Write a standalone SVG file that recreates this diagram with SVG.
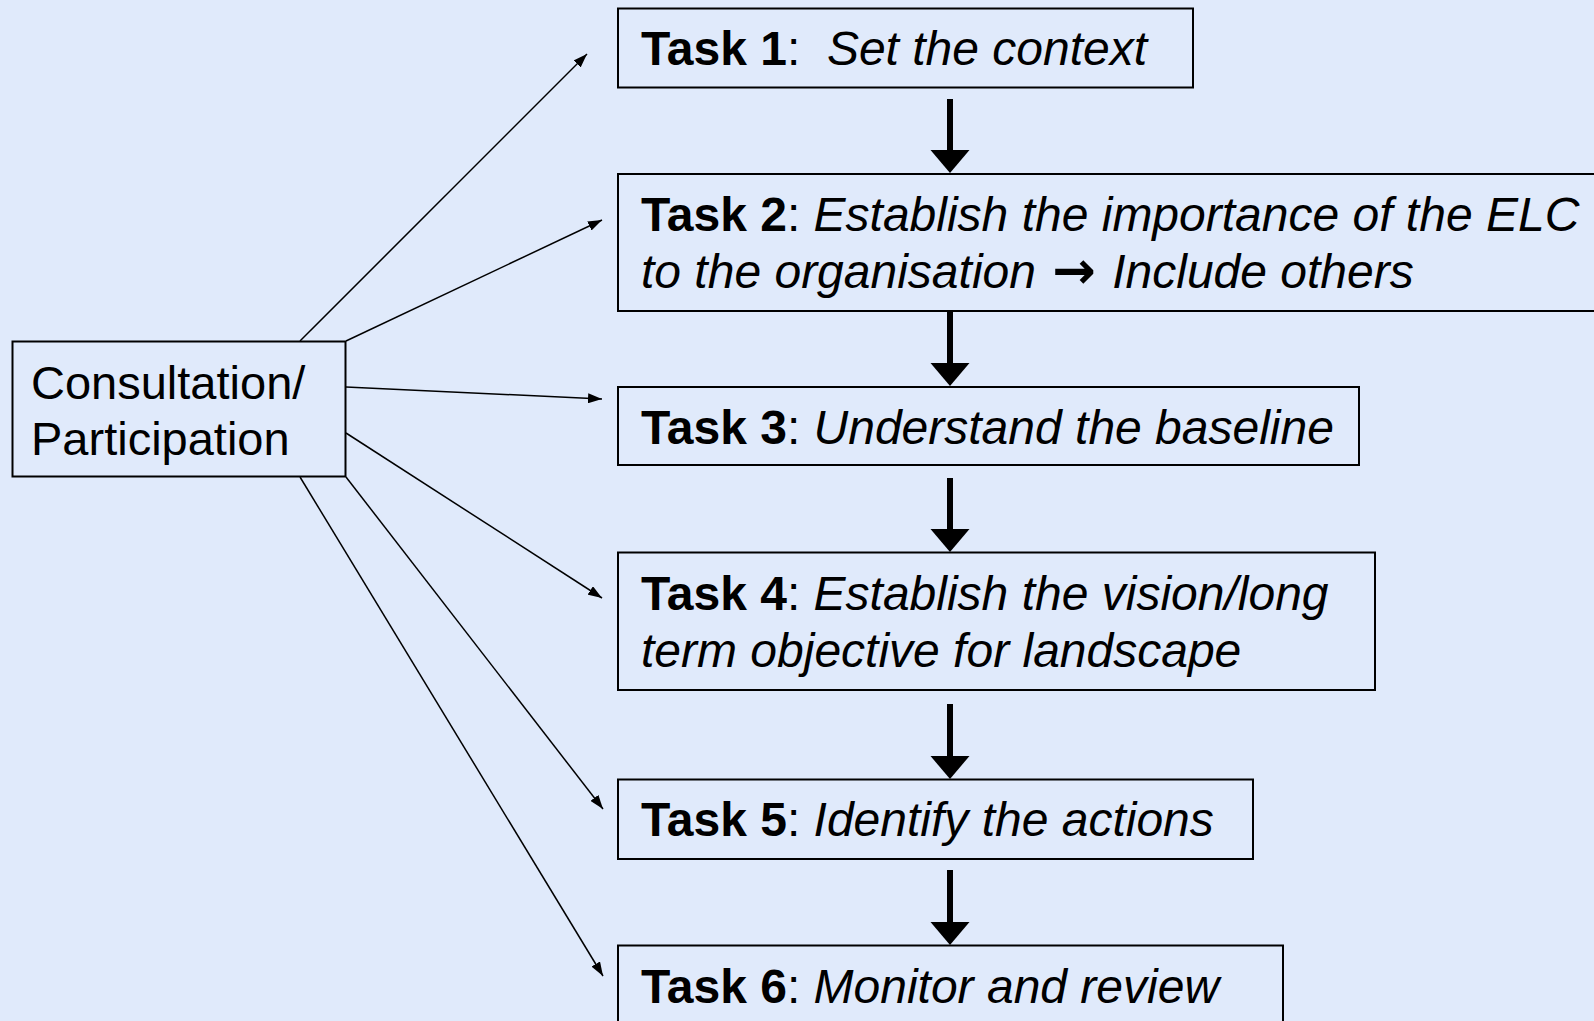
<svg xmlns="http://www.w3.org/2000/svg" width="1594" height="1021" viewBox="0 0 1594 1021">
<defs>
<style>
.box{fill:none;stroke:#000;stroke-width:2}
.t{font-family:"Liberation Sans",Arial,sans-serif;font-size:48px;fill:#000}
.c{font-family:"Liberation Sans",Arial,sans-serif;font-size:47px;fill:#000}
.b{font-weight:bold}
.i{font-style:italic}
.arr{font-family:"DejaVu Sans",sans-serif;font-style:normal;font-weight:bold;font-size:52px}
.thin{stroke:#000;stroke-width:1.5;fill:none;marker-end:url(#ah)}
.thick{stroke:#000;stroke-width:6;fill:none;marker-end:url(#bh)}
</style>
<marker id="ah" markerUnits="userSpaceOnUse" markerWidth="14" markerHeight="10" refX="14" refY="5" orient="auto">
<path d="M0,0 L14,5 L0,10 z" fill="#000"/>
</marker>
<marker id="bh" markerUnits="userSpaceOnUse" markerWidth="23" markerHeight="39" refX="0" refY="19.5" orient="auto" overflow="visible">
<path d="M0,0 L23,19.5 L0,39 z" fill="#000"/>
</marker>
</defs>
<rect width="1594" height="1021" fill="#E0EAFB"/>
<g id="connectors">
<line class="thin" x1="300" y1="341" x2="587" y2="54"/>
<line class="thin" x1="346" y1="341" x2="602" y2="220"/>
<line class="thin" x1="346" y1="387" x2="602" y2="399"/>
<line class="thin" x1="346" y1="433" x2="602" y2="598"/>
<line class="thin" x1="346" y1="477" x2="603" y2="809"/>
<line class="thin" x1="300" y1="477" x2="603" y2="976"/>
<line class="thick" x1="950" y1="99" x2="950" y2="150"/>
<line class="thick" x1="950" y1="311" x2="950" y2="363"/>
<line class="thick" x1="950" y1="478" x2="950" y2="529"/>
<line class="thick" x1="950" y1="704" x2="950" y2="756"/>
<line class="thick" x1="950" y1="870" x2="950" y2="922"/>
</g>
<g id="consultation">
<rect class="box" x="12.5" y="341.5" width="333" height="135"/>
<text class="c" x="31" y="399">Consultation/</text>
<text class="c" x="31" y="455">Participation</text>
</g>
<g id="task1">
<rect class="box" x="618" y="8.5" width="575" height="79"/>
<text class="t" x="641" y="65" xml:space="preserve"><tspan class="b">Task 1</tspan>:  <tspan class="i">Set the context</tspan></text>
</g>
<g id="task2">
<rect class="box" x="618" y="174" width="1000" height="137"/>
<text class="t" x="641" y="231" xml:space="preserve"><tspan class="b">Task 2</tspan>: <tspan class="i">Establish the importance of the ELC</tspan></text>
<text class="t i" x="641" y="288" xml:space="preserve">to the organisation <tspan class="arr" dx="3">→</tspan><tspan dx="3"> Include others</tspan></text>
</g>
<g id="task3">
<rect class="box" x="618" y="387" width="741" height="78"/>
<text class="t" x="641" y="444" xml:space="preserve"><tspan class="b">Task 3</tspan>: <tspan class="i">Understand the baseline</tspan></text>
</g>
<g id="task4">
<rect class="box" x="618" y="552.5" width="757" height="137.5"/>
<text class="t" x="641" y="610" xml:space="preserve"><tspan class="b">Task 4</tspan>: <tspan class="i">Establish the vision/long</tspan></text>
<text class="t i" x="641" y="667">term objective for landscape</text>
</g>
<g id="task5">
<rect class="box" x="618" y="779.5" width="635" height="79.5"/>
<text class="t" x="641" y="836" xml:space="preserve"><tspan class="b">Task 5</tspan>: <tspan class="i">Identify the actions</tspan></text>
</g>
<g id="task6">
<rect class="box" x="618" y="945.5" width="665" height="100"/>
<text class="t" x="641" y="1003" xml:space="preserve"><tspan class="b">Task 6</tspan>: <tspan class="i">Monitor and review</tspan></text>
</g>
</svg>
